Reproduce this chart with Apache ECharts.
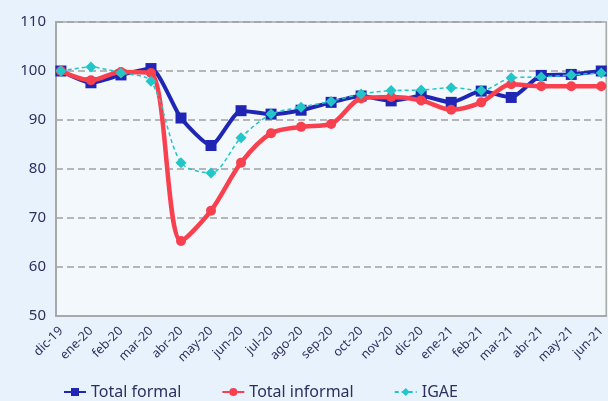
<!DOCTYPE html>
<html><head><meta charset="utf-8">
<script src="https://cdn.jsdelivr.net/npm/echarts@6/dist/echarts.min.js"></script>
<style>html,body{margin:0;padding:0;background:#e8f2fc;}#c{width:608px;height:401px;}</style>
</head><body><div id="c"></div>
<script>
const categories = ["dic-19","ene-20","feb-20","mar-20","abr-20","may-20","jun-20","jul-20","ago-20","sep-20","oct-20","nov-20","dic-20","ene-21","feb-21","mar-21","abr-21","may-21","jun-21"];
const totalFormal = [100, 97.6, 99.2, 100.5, 90.4, 84.8, 91.9, 91.2, 92.0, 93.6, 94.9, 93.9, 94.9, 93.6, 95.9, 94.6, 99.1, 99.3, 100.0];
const totalInformal = [100, 98.1, 99.8, 99.6, 65.3, 71.5, 81.3, 87.3, 88.6, 89.2, 94.4, 94.7, 94.0, 92.1, 93.6, 97.3, 96.9, 96.9, 96.9];
const igae = [100, 100.8, 99.6, 97.9, 81.3, 79.2, 86.4, 91.2, 92.6, 93.8, 95.3, 96.0, 96.1, 96.6, 96.0, 98.6, 98.8, 99.2, 99.6];
const yTicks = [50, 60, 70, 80, 90, 100, 110];
const idx = categories.map((c, i) => i);

const chart = echarts.init(document.getElementById('c'), null, {renderer: 'canvas'});
const txt = '#2f2f5f';
const font = '"Noto Sans", "Open Sans", sans-serif';
const pair = arr => arr.map((v, i) => [i, v]);
chart.setOption({
  backgroundColor: '#e8f2fc',
  animation: false,
  grid: {left: 56, right: -5, top: 22, bottom: 85, show: true, backgroundColor: '#f3f8fd', borderColor: '#a8a8a8', borderWidth: 1.5},
  xAxis: {
    type: 'value', min: -0.164, max: 18.164,
    axisLine: {show: true, onZero: false, lineStyle: {color: '#a8a8a8', width: 2}},
    axisTick: {show: false, customValues: idx},
    splitLine: {show: false},
    axisLabel: {customValues: idx, rotate: 45, color: txt, fontFamily: font, fontSize: 12.5, margin: 13,
      formatter: v => categories[Math.round(v)]}
  },
  yAxis: {
    type: 'value', min: yTicks[0], max: yTicks[yTicks.length - 1], interval: 10,
    axisLine: {show: true, onZero: false, lineStyle: {color: '#a8a8a8', width: 2}},
    axisTick: {show: false},
    axisLabel: {color: txt, fontFamily: font, fontSize: 15, margin: 10},
    splitLine: {show: true, lineStyle: {color: '#a0a0a0', type: [7, 4], width: 1.5}}
  },
  legend: {
    bottom: -4, left: 58, itemGap: 40, itemWidth: 22, itemHeight: 10,
    textStyle: {color: txt, fontFamily: font, fontSize: 16},
    data: ['Total formal', 'Total informal', 'IGAE']
  },
  series: [
    {name: 'IGAE', type: 'line', data: pair(igae), smooth: 0.3, z: 3,
     symbol: 'diamond', symbolSize: 11, lineStyle: {color: '#22c6c8', width: 1.5, type: [4, 3]},
     itemStyle: {color: '#22c6c8'}},
    {name: 'Total informal', type: 'line', data: pair(totalInformal), smooth: 0.3, z: 2,
     symbol: 'circle', symbolSize: 10, lineStyle: {color: '#f8404e', width: 4.5},
     itemStyle: {color: '#f8404e'}},
    {name: 'Total formal', type: 'line', data: pair(totalFormal), smooth: 0.2, z: 1,
     symbol: 'rect', symbolSize: 11, lineStyle: {color: '#2026b4', width: 4},
     itemStyle: {color: '#2026b4'}}
  ]
});
</script></body></html>
